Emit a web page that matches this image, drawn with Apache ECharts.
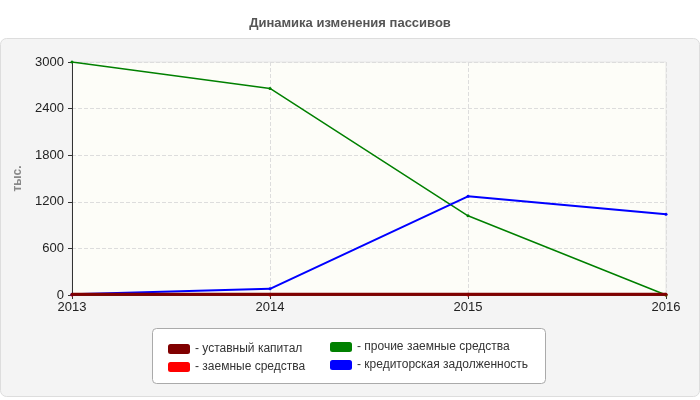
<!DOCTYPE html><html><head><meta charset="utf-8"><script src="https://cdn.jsdelivr.net/npm/echarts@6/dist/echarts.min.js"></script></head><body style="margin:0"><div id="c" style="width:700px;height:400px"></div><script>
const categories=['2013','2014','2015','2016'];
const ustavny=[10,10,10,10];
const zaemnye=[0,0,0,0];
const prochie=[3000,2660,1020,0];
const kreditor=[10,80,1270,1040];
const names=['- уставный капитал','- заемные средства','- прочие заемные средства','- кредиторская задолженность'];
const colors=['#800000','#ff0000','#008000','#0000ff'];
const c=echarts.init(document.getElementById('c'));
const mk=(n,d,col,w)=>({name:n,type:'line',data:d,symbol:'circle',symbolSize:3,showSymbol:true,lineStyle:{color:col,width:w},itemStyle:{color:col},z:w});
c.setOption({
 animation:false,
 textStyle:{fontFamily:'Arial'},
 graphic:[{type:'rect',shape:{x:0.5,y:38.5,width:699,height:358,r:6},style:{fill:'#f4f4f4',stroke:'#dddddd'},z:-10},
          {type:'rect',shape:{x:152.5,y:328.5,width:393,height:55,r:4},style:{fill:'#fff',stroke:'#aaa'},z:-5}],
 title:{text:'Динамика изменения пассивов',left:'center',top:12,textStyle:{fontSize:13,fontWeight:'bold',color:'#555'}},
 grid:{left:72,right:34,top:62,bottom:105,backgroundColor:'#fdfdf8',show:true,borderColor:'#e6e6e6'},
 legend:[{data:[names[0],names[1]],orient:'vertical',left:163,top:338,itemWidth:22,itemHeight:10,itemGap:6,icon:'roundRect',textStyle:{fontSize:12,color:'#333'}},
         {data:[names[2],names[3]],orient:'vertical',left:325,top:336,itemWidth:22,itemHeight:10,itemGap:6,icon:'roundRect',textStyle:{fontSize:12,color:'#333'}}],
 xAxis:{type:'category',data:categories,boundaryGap:false,axisLine:{lineStyle:{color:'#333'}},axisTick:{show:true,length:4},axisLabel:{color:'#222',fontSize:13,margin:6},splitLine:{show:true,lineStyle:{type:'dashed',color:'#ddd'}}},
 yAxis:{type:'value',min:0,max:3000,interval:600,name:'тыс.',nameLocation:'middle',nameGap:44,nameTextStyle:{color:'#888',fontWeight:'bold',fontSize:12},axisLine:{show:true,lineStyle:{color:'#333'}},axisTick:{show:true,length:4},axisLabel:{color:'#222',fontSize:13,formatter:v=>String(v)},splitLine:{lineStyle:{type:'dashed',color:'#ddd'}}},
 series:[mk(names[0],ustavny,colors[0],3),mk(names[1],zaemnye,colors[1],1),mk(names[2],prochie,colors[2],1.5),mk(names[3],kreditor,colors[3],2)]
});
</script></body></html>
